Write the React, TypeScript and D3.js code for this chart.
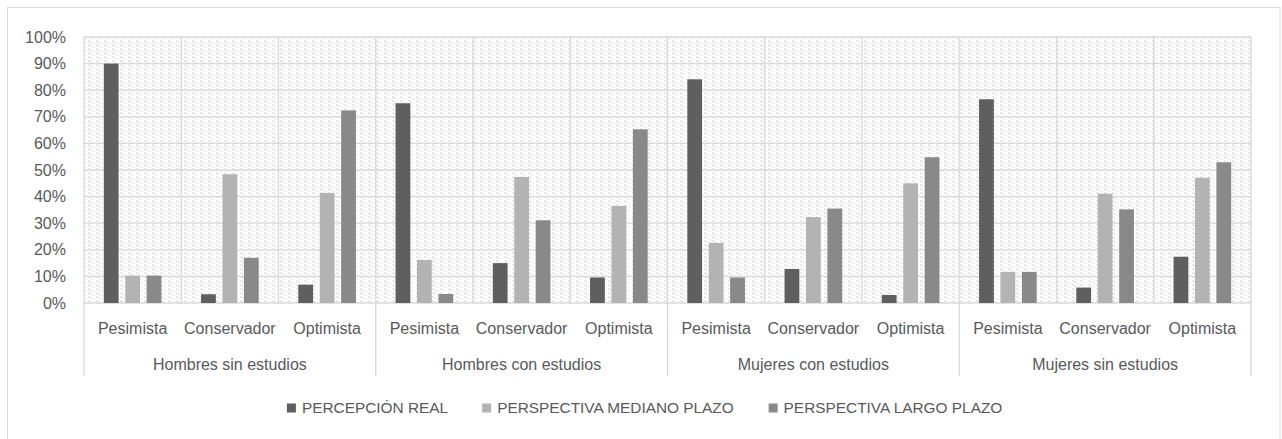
import React from 'react';
import * as d3 from 'd3';

const groups = ["Hombres sin estudios", "Hombres con estudios", "Mujeres con estudios", "Mujeres sin estudios"];
const subcats = ["Pesimista", "Conservador", "Optimista"];
const seriesNames = ["PERCEPCIÓN REAL", "PERSPECTIVA MEDIANO PLAZO", "PERSPECTIVA LARGO PLAZO"];
const seriesColors = ["#5f5f5f", "#b3b3b3", "#898989"];

// values per group, in subcats order (fractions)
const percepcionReal = [
  [0.90, 0.033, 0.069],
  [0.751, 0.150, 0.096],
  [0.841, 0.128, 0.030],
  [0.766, 0.058, 0.174],
];
const medianoPlazo = [
  [0.103, 0.484, 0.414],
  [0.162, 0.474, 0.365],
  [0.226, 0.323, 0.450],
  [0.117, 0.411, 0.471],
];
const largoPlazo = [
  [0.103, 0.170, 0.724],
  [0.034, 0.311, 0.653],
  [0.096, 0.355, 0.548],
  [0.117, 0.352, 0.529],
];
const seriesValues = [percepcionReal, medianoPlazo, largoPlazo];
const yTickValues = [0, 0.1, 0.2, 0.3, 0.4, 0.5, 0.6, 0.7, 0.8, 0.9, 1];

const width = 1282;
const height = 439;
const plotLeft = 84;
const plotRight = 1251;
const plotTop = 37;
const plotBottom = 303;
const textColor = "#595959";
const gridColor = "#d9d9d9";
const font = "'Liberation Sans', Arial, sans-serif";
const legendFontSize = 15.4;

const measure = (txt: string, f: string) => {
  const ctx = document.createElement('canvas').getContext('2d');
  if (!ctx) return txt.length * 8;
  ctx.font = f;
  return ctx.measureText(txt).width;
};

const App: React.FC = () => {
  const x0 = d3.scaleBand<string>().domain(groups).range([plotLeft, plotRight]);
  const xSub = d3.scaleBand<string>().domain(subcats).range([0, x0.bandwidth()]);
  const barPad = 19.8;
  const x1 = d3.scaleBand<string>().domain(seriesNames)
    .range([barPad, xSub.bandwidth() - barPad]).paddingInner(0.31).paddingOuter(0);
  const y = d3.scaleLinear().domain([0, 1]).range([plotBottom, plotTop]);

  const subStarts: number[] = [];
  groups.forEach(g => subcats.forEach(s => subStarts.push((x0(g) as number) + (xSub(s) as number))));

  // legend layout
  const markerSize = 9;
  const markerGap = 6;
  const itemGap = 34;
  const legendWidths = seriesNames.map(n => markerSize + markerGap + measure(n, `${legendFontSize}px ${font}`));
  const legendTotal = d3.sum(legendWidths) + itemGap * (seriesNames.length - 1);
  let lx = 645 - legendTotal / 2;
  const legendX = legendWidths.map(w => { const v = lx; lx += w + itemGap; return v; });
  const legendY = 408;

  return (
    <svg width={width} height={height} style={{position: "absolute", left: 0, top: 0, fontFamily: font}}>
      <defs>
        <pattern id="hatch" width={8} height={4} patternUnits="userSpaceOnUse">
          <rect width={8} height={4} fill="#ffffff"/>
          <line x1={0} y1={0.5} x2={3.5} y2={2.3} stroke="#d3d3d3" strokeWidth={1}/>
          <line x1={4.5} y1={2.7} x2={6.5} y2={3.7} stroke="#e6e6e6" strokeWidth={1}/>
        </pattern>
      </defs>
      <rect x={0} y={0} width={width} height={height} fill="white"/>
      <rect x={7.5} y={7.5} width={1272.5} height={440} fill="white" stroke={gridColor} strokeWidth={1}/>

      {/* plot area */}
      <rect x={plotLeft} y={plotTop} width={plotRight - plotLeft} height={plotBottom - plotTop} fill="url(#hatch)"/>
      {yTickValues.map(v => (
        <line key={v} x1={plotLeft} x2={plotRight} y1={y(v)} y2={y(v)} stroke={gridColor} strokeWidth={1.3}/>
      ))}
      {subStarts.map((sx, i) => (
        <line key={i} x1={sx} x2={sx} y1={plotTop} y2={plotBottom} stroke={gridColor} strokeWidth={1.3}/>
      ))}
      <line x1={plotRight} x2={plotRight} y1={plotTop} y2={plotBottom} stroke={gridColor} strokeWidth={1.3}/>

      {/* bars */}
      {groups.map((g, gi) => subcats.map((s, si) => seriesNames.map((n, ni) => {
        const v = seriesValues[ni][gi][si];
        const bx = (x0(g) as number) + (xSub(s) as number) + (x1(n) as number);
        return <rect key={`${gi}-${si}-${ni}`} x={bx} y={y(v)} width={x1.bandwidth()} height={y(0) - y(v)} fill={seriesColors[ni]}/>;
      })))}

      {/* y axis labels */}
      {yTickValues.map(v => (
        <text key={v} x={66} y={y(v)} dy="0.35em" textAnchor="end" fontSize={16} fill={textColor}>
          {`${Math.round(v * 100)}%`}
        </text>
      ))}

      {/* category axis */}
      {groups.map((g, gi) => (
        <g key={g}>
          <line x1={x0(g) as number} x2={x0(g) as number} y1={plotBottom} y2={376} stroke={gridColor} strokeWidth={1.3}/>
          {subcats.map(s => (
            <text key={s} x={(x0(g) as number) + (xSub(s) as number) + xSub.bandwidth() / 2} y={334}
              textAnchor="middle" fontSize={16} fill={textColor}>{s}</text>
          ))}
          <text x={(x0(g) as number) + x0.bandwidth() / 2} y={370} textAnchor="middle" fontSize={16} fill={textColor}>{g}</text>
          {gi === groups.length - 1 &&
            <line x1={plotRight} x2={plotRight} y1={plotBottom} y2={376} stroke={gridColor} strokeWidth={1.3}/>}
        </g>
      ))}

      {/* legend */}
      {seriesNames.map((n, i) => (
        <g key={n} transform={`translate(${legendX[i]}, ${legendY})`}>
          <rect x={0} y={-markerSize / 2} width={markerSize} height={markerSize} fill={seriesColors[i]}/>
          <text x={markerSize + markerGap} y={0} dy="0.35em" fontSize={legendFontSize} fill={textColor}>{n}</text>
        </g>
      ))}
    </svg>
  );
};

export default App;
